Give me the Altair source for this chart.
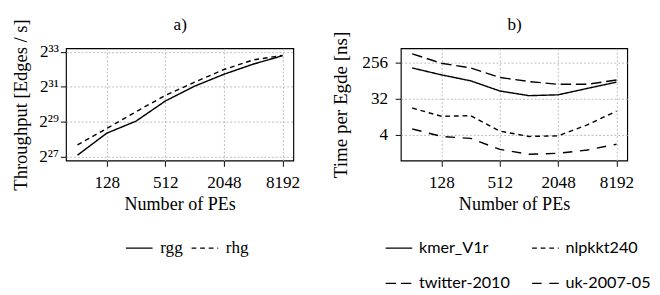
import altair as alt
import pandas as pd

# ---------------- data ----------------
pes = [64, 128, 256, 512, 1024, 2048, 4096, 8192]

# panel a: log2 of throughput [edges / s]
rgg_log2 = [27.09, 28.35, 29.04, 30.19, 31.04, 31.72, 32.30, 32.78]
rhg_log2 = [27.68, 28.62, 29.58, 30.51, 31.27, 31.99, 32.54, 32.80]

# panel b: time per edge [ns]
kmer_v1r = [184.8, 124.5, 88.6, 49.5, 37.8, 39.7, 57.3, 82.1]
nlpkkt240 = [18.6, 11.6, 12.0, 4.96, 3.66, 3.78, 7.11, 15.6]
twitter_2010 = [416.0, 242.0, 185.0, 107.6, 85.0, 72.5, 72.5, 93.0]
uk_2007_05 = [5.62, 3.66, 3.27, 1.74, 1.32, 1.39, 1.68, 2.33]

a_series = ["rgg", "rhg"]
b_series = ["kmer_V1r", "nlpkkt240", "twitter-2010", "uk-2007-05"]

x_ticks = [128, 512, 2048, 8192]
a_y_ticks = [27, 29, 31, 33]
a_y_tick_labels = ["2²⁷", "2²⁹", "2³¹", "2³³"]
b_y_ticks = [4, 32, 256]

a_dashes = [[1, 0], [5, 4]]
b_dashes = [[1, 0], [5, 4], [11, 5], [10, 8]]

# ---------------- tables ----------------
df_a = pd.DataFrame({
    "pes": pes * 2,
    "val": rgg_log2 + rhg_log2,
    "series": ["rgg"] * len(pes) + ["rhg"] * len(pes),
})
df_b = pd.DataFrame({
    "pes": pes * 4,
    "val": kmer_v1r + nlpkkt240 + twitter_2010 + uk_2007_05,
    "series": sum([[s] * len(pes) for s in b_series], []),
})

SERIF = "Liberation Serif"
SANS = "Lato"

x_dom = [2 ** 5.61, 2 ** 13.37]

label_expr = " : ".join(
    f"datum.value == {v} ? '{l}'" for v, l in zip(a_y_ticks[:-1], a_y_tick_labels[:-1])
) + f" : '{a_y_tick_labels[-1]}'"

x_scale = alt.Scale(type="log", base=2, domain=x_dom, nice=False, zero=False)


def x_enc():
    return alt.X("pes:Q", scale=x_scale,
                 axis=alt.Axis(values=x_ticks, title="Number of PEs", format="d",
                               labelPadding=8, titlePadding=4, titleFontSize=19))


def panel_title(text, df):
    # invisible layer carrying a top axis whose title is the panel label
    return alt.Chart(df).mark_line(opacity=0).encode(
        x=alt.X("pes:Q", scale=x_scale,
                axis=alt.Axis(orient="top", title=text, labels=False, ticks=False,
                              grid=False, domain=False, titleFontSize=18, titlePadding=16,
                              titleColor="black")),
        y=alt.Y("val:Q", axis=None),
    )


lines_a = alt.Chart(df_a).mark_line(color="black", strokeWidth=1.5, clip=True).encode(
    x=x_enc(),
    y=alt.Y(
        "val:Q",
        scale=alt.Scale(domain=[26.78, 33.2], nice=False, zero=False),
        axis=alt.Axis(values=a_y_ticks, labelExpr=label_expr, titleFontSize=19.5,
                      titleColor="black", labelColor="black",
                      title="Throughput [Edges / s]", labelPadding=2, titlePadding=9),
    ),
    strokeDash=alt.StrokeDash(
        "series:N",
        scale=alt.Scale(domain=a_series, range=a_dashes),
        legend=alt.Legend(
            title=None, orient="none", legendX=62, legendY=195, direction="horizontal",
            columns=2, columnPadding=6, symbolType="stroke", symbolSize=784,
            symbolStrokeColor="black", symbolStrokeWidth=1.5, labelFont=SERIF,
            labelFontSize=18, labelColor="black", labelOffset=7,
        ),
    ),
)
chart_a = alt.layer(lines_a, panel_title("a)", df_a)).resolve_axis(
    x="independent", y="independent"
).properties(width=239, height=118)

lines_b = alt.Chart(df_b).mark_line(color="black", strokeWidth=1.5, clip=True).encode(
    x=x_enc(),
    y=alt.Y(
        "val:Q",
        scale=alt.Scale(type="log", base=2, domain=[2 ** -0.13, 2 ** 9.15], nice=False, zero=False),
        axis=alt.Axis(values=b_y_ticks, title="Time per Egde [ns]", format="d",
                      titleColor="black", labelColor="black", titleFontSize=20,
                      labelPadding=8, titlePadding=12),
    ),
    strokeDash=alt.StrokeDash(
        "series:N",
        scale=alt.Scale(domain=b_series, range=b_dashes),
        legend=alt.Legend(
            title=None, orient="none", legendX=-17, legendY=195, direction="horizontal",
            columns=2, columnPadding=20, rowPadding=14, symbolType="stroke", symbolSize=784,
            symbolStrokeColor="black", symbolStrokeWidth=1.5, labelFont=SANS,
            labelFontSize=17, labelColor="black", labelOffset=6,
        ),
    ),
)
chart_b = alt.layer(lines_b, panel_title("b)", df_b)).resolve_axis(
    x="independent", y="independent"
).properties(width=238, height=118)

chart = alt.hconcat(chart_a, chart_b, spacing=113, bounds="flush").resolve_scale(
    strokeDash="independent", x="independent", y="independent"
).resolve_legend(strokeDash="independent").properties(
    padding={"left": 2, "top": 0, "right": 0, "bottom": 0}
).configure_view(
    stroke="black", strokeWidth=1.2
).configure_axis(
    labelFont=SERIF, labelFontSize=18, labelColor="black",
    titleFont=SERIF, titleFontSize=19, titleColor="black", titleFontWeight="normal",
    tickColor="black", tickSize=6, tickWidth=1, domain=False,
    grid=True, gridColor="#b8b8b8", gridDash=[2, 2], gridWidth=1,
)

chart.save("out.html", embed_options={"renderer": "svg", "actions": False})
